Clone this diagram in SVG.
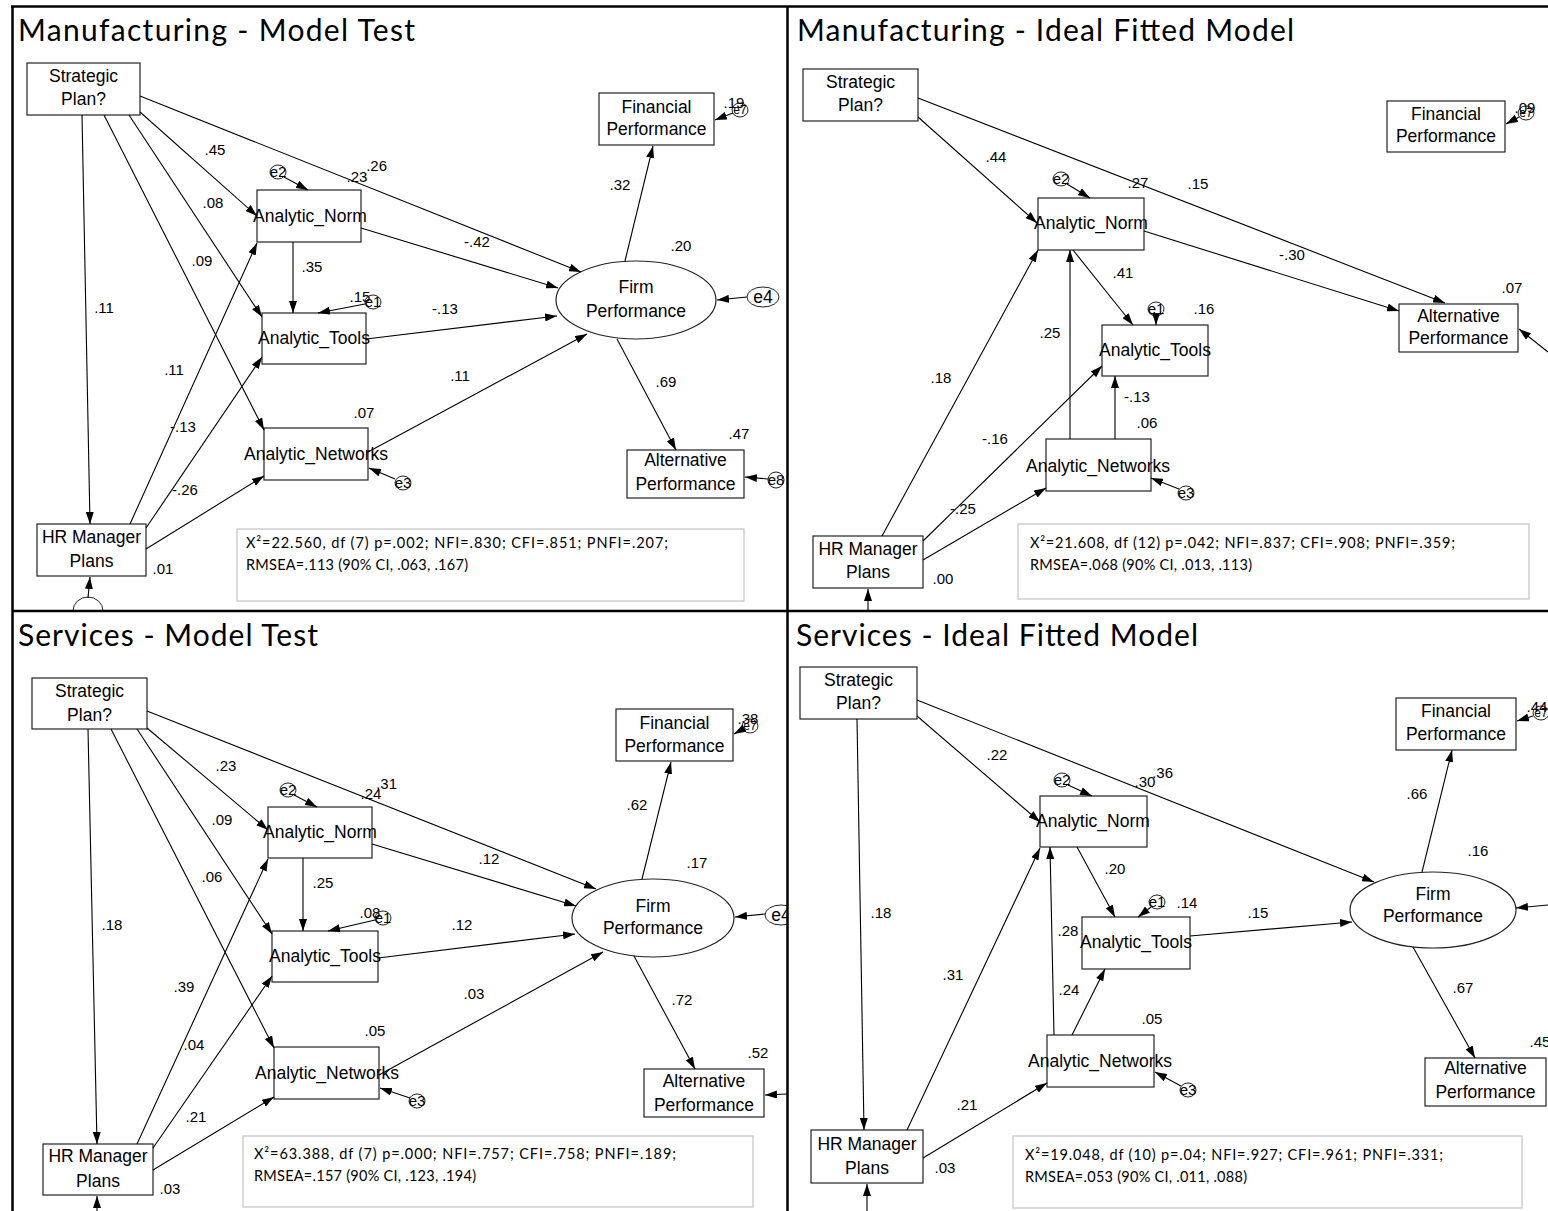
<svg xmlns="http://www.w3.org/2000/svg" width="1548" height="1211" viewBox="0 0 1548 1211">
<defs>
<marker id="ah" viewBox="0 0 12 8" refX="12" refY="4" markerWidth="12" markerHeight="8" markerUnits="userSpaceOnUse" orient="auto"><path d="M0,0 L12,4 L0,8 z" fill="#000"/></marker>
<clipPath id="c1"><rect x="12" y="6" width="775" height="605"/></clipPath>
<clipPath id="c2"><rect x="787" y="6" width="761" height="605"/></clipPath>
<clipPath id="c3"><rect x="12" y="611" width="775" height="600"/></clipPath>
<clipPath id="c4"><rect x="787" y="611" width="761" height="600"/></clipPath>
</defs>
<style>
.box{fill:#fff;stroke:#222;stroke-width:1.2}
.ell{fill:#fff;stroke:#222;stroke-width:1.2}
.nt{font-family:"Liberation Sans",Arial,sans-serif;font-size:17.5px;text-anchor:middle;fill:#000}
.lb{font-family:"Liberation Sans",Arial,sans-serif;font-size:15px;text-anchor:middle;fill:#000}
.ec{fill:#fff;stroke:#222;stroke-width:1}
.et{font-family:"Liberation Sans",Arial,sans-serif;font-size:15px;text-anchor:middle;fill:#000}
.es{font-family:"Liberation Sans",Arial,sans-serif;font-size:12px;text-anchor:middle;fill:#000}
.ln{stroke:#000;stroke-width:1.1;fill:none;marker-end:url(#ah)}
.fit{fill:#fff;stroke:#c8c8c8;stroke-width:1.3}
.ft{font-family:Lato,"Open Sans",sans-serif;font-size:14.5px;fill:#000}
.title{font-family:Lato,"Open Sans",sans-serif;font-size:30px;fill:#000}
.frame{stroke:#000;stroke-width:2.5;fill:none}
</style>
<rect width="1548" height="1211" fill="#fff"/>

<!-- ================= Q1 ================= -->
<g id="q1" clip-path="url(#c1)">
<text class="title" x="18" y="41" textLength="397">Manufacturing - Model Test</text>
<g id="q1-strategic"><rect class="box" x="27" y="63" width="113" height="52"/><text class="nt" x="83.5" y="82">Strategic</text><text class="nt" x="83.5" y="105">Plan?</text></g>
<g id="q1-hr"><rect class="box" x="37" y="524" width="109" height="52"/><text class="nt" x="91.5" y="543">HR Manager</text><text class="nt" x="91.5" y="567">Plans</text></g>
<g id="q1-norm"><rect class="box" x="257" y="190" width="104" height="52"/><text class="nt" x="310" y="222">Analytic_Norm</text></g>
<g id="q1-tools"><rect class="box" x="262" y="313" width="104" height="51"/><text class="nt" x="314" y="344">Analytic_Tools</text></g>
<g id="q1-networks"><rect class="box" x="264" y="428" width="104" height="52"/><text class="nt" x="316" y="460">Analytic_Networks</text></g>
<g id="q1-financial"><rect class="box" x="599" y="93" width="115" height="52"/><text class="nt" x="656.5" y="113">Financial</text><text class="nt" x="656.5" y="135">Performance</text></g>
<g id="q1-alternative"><rect class="box" x="627" y="450" width="117" height="48"/><text class="nt" x="685.5" y="466">Alternative</text><text class="nt" x="685.5" y="490">Performance</text></g>
<g id="q1-firm"><ellipse class="ell" cx="636" cy="300" rx="80" ry="39"/><text class="nt" x="636" y="293">Firm</text><text class="nt" x="636" y="317">Performance</text></g>
<g id="q1-e2"><ellipse class="ec" cx="278" cy="172" rx="8" ry="7"/><text class="et" x="278" y="177">e2</text></g>
<g id="q1-e1"><ellipse class="ec" cx="373" cy="302" rx="8" ry="7"/><text class="et" x="373" y="307">e1</text></g>
<g id="q1-e3"><ellipse class="ec" cx="403" cy="483" rx="8" ry="7"/><text class="et" x="403" y="488">e3</text></g>
<g id="q1-e4"><ellipse class="ec" cx="763" cy="297" rx="16" ry="10"/><text class="nt" x="763" y="303">e4</text></g>
<g id="q1-e7"><ellipse class="ec" cx="740" cy="110" rx="8" ry="7"/><text class="es" x="740" y="114">e7</text></g>
<g id="q1-e8"><ellipse class="ec" cx="776" cy="480" rx="8" ry="8"/><text class="et" x="776" y="485">e8</text></g>
<g id="q1-err"><path d="M73,611 A15,14 0 0 1 103,611" fill="#fff" stroke="#222" stroke-width="1"/></g>
<g id="q1-fit"><rect class="fit" x="237" y="529" width="507" height="72"/><text class="ft" x="246" y="548" textLength="422">X²=22.560, df (7) p=.002; NFI=.830; CFI=.851; PNFI=.207;</text><text class="ft" x="246" y="570" textLength="222">RMSEA=.113 (90% CI, .063, .167)</text></g>
</g>

<!-- ================= Q2 ================= -->
<g id="q2" clip-path="url(#c2)">
<text class="title" x="797" y="41" textLength="497">Manufacturing - Ideal Fitted Model</text>
<g id="q2-strategic"><rect class="box" x="803" y="69" width="115" height="52"/><text class="nt" x="860.5" y="88">Strategic</text><text class="nt" x="860.5" y="111">Plan?</text></g>
<g id="q2-hr"><rect class="box" x="813" y="536" width="110" height="52"/><text class="nt" x="868" y="555">HR Manager</text><text class="nt" x="868" y="578">Plans</text></g>
<g id="q2-norm"><rect class="box" x="1038" y="198" width="106" height="52"/><text class="nt" x="1091" y="229">Analytic_Norm</text></g>
<g id="q2-tools"><rect class="box" x="1102" y="325" width="106" height="51"/><text class="nt" x="1155" y="356">Analytic_Tools</text></g>
<g id="q2-networks"><rect class="box" x="1046" y="439" width="105" height="52"/><text class="nt" x="1098" y="472">Analytic_Networks</text></g>
<g id="q2-financial"><rect class="box" x="1387" y="101" width="118" height="51"/><text class="nt" x="1446" y="120">Financial</text><text class="nt" x="1446" y="142">Performance</text></g>
<g id="q2-alternative"><rect class="box" x="1399" y="304" width="119" height="48"/><text class="nt" x="1458.5" y="322">Alternative</text><text class="nt" x="1458.5" y="344">Performance</text></g>
<g id="q2-e2"><ellipse class="ec" cx="1061" cy="179" rx="8" ry="7"/><text class="et" x="1061" y="184">e2</text></g>
<g id="q2-e1"><ellipse class="ec" cx="1156" cy="309" rx="8" ry="7"/><text class="et" x="1156" y="314">e1</text></g>
<g id="q2-e3"><ellipse class="ec" cx="1186" cy="493" rx="8" ry="7"/><text class="et" x="1186" y="498">e3</text></g>
<g id="q2-e7"><ellipse class="ec" cx="1526" cy="113" rx="8" ry="7"/><text class="es" x="1526" y="117">e7</text></g>
<g id="q2-fit"><rect class="fit" x="1018" y="524" width="511" height="75"/><text class="ft" x="1030" y="548" textLength="425">X²=21.608, df (12) p=.042; NFI=.837; CFI=.908; PNFI=.359;</text><text class="ft" x="1030" y="570" textLength="222">RMSEA=.068 (90% CI, .013, .113)</text></g>
</g>

<!-- ================= Q3 ================= -->
<g id="q3" clip-path="url(#c3)">
<text class="title" x="18" y="646" textLength="300">Services - Model Test</text>
<g id="q3-strategic"><rect class="box" x="32" y="678" width="115" height="51"/><text class="nt" x="89.5" y="697">Strategic</text><text class="nt" x="89.5" y="721">Plan?</text></g>
<g id="q3-hr"><rect class="box" x="43" y="1144" width="110" height="51"/><text class="nt" x="98" y="1162">HR Manager</text><text class="nt" x="98" y="1187">Plans</text></g>
<g id="q3-norm"><rect class="box" x="268" y="807" width="104" height="51"/><text class="nt" x="320" y="838">Analytic_Norm</text></g>
<g id="q3-tools"><rect class="box" x="272" y="931" width="106" height="51"/><text class="nt" x="325" y="962">Analytic_Tools</text></g>
<g id="q3-networks"><rect class="box" x="274" y="1047" width="105" height="52"/><text class="nt" x="327" y="1079">Analytic_Networks</text></g>
<g id="q3-financial"><rect class="box" x="616" y="709" width="117" height="52"/><text class="nt" x="674.5" y="729">Financial</text><text class="nt" x="674.5" y="752">Performance</text></g>
<g id="q3-alternative"><rect class="box" x="644" y="1069" width="120" height="48"/><text class="nt" x="704" y="1087">Alternative</text><text class="nt" x="704" y="1111">Performance</text></g>
<g id="q3-firm"><ellipse class="ell" cx="653" cy="918" rx="81" ry="39"/><text class="nt" x="653" y="912">Firm</text><text class="nt" x="653" y="934">Performance</text></g>
<g id="q3-e2"><ellipse class="ec" cx="288" cy="790" rx="8" ry="7"/><text class="et" x="288" y="795">e2</text></g>
<g id="q3-e1"><ellipse class="ec" cx="383" cy="918" rx="8" ry="7"/><text class="et" x="383" y="923">e1</text></g>
<g id="q3-e3"><ellipse class="ec" cx="417" cy="1101" rx="8" ry="7"/><text class="et" x="417" y="1106">e3</text></g>
<g id="q3-e7"><ellipse class="ec" cx="750" cy="726" rx="8" ry="7"/><text class="es" x="750" y="730">e7</text></g>
<g id="q3-e4"><ellipse class="ec" cx="781" cy="915" rx="16" ry="10"/><text class="nt" x="781" y="921">e4</text></g>
<g id="q3-fit"><rect class="fit" x="243" y="1136" width="510" height="71"/><text class="ft" x="254" y="1159" textLength="422">X²=63.388, df (7) p=.000; NFI=.757; CFI=.758; PNFI=.189;</text><text class="ft" x="254" y="1181" textLength="222">RMSEA=.157 (90% CI, .123, .194)</text></g>
</g>

<!-- ================= Q4 ================= -->
<g id="q4" clip-path="url(#c4)">
<text class="title" x="796" y="646" textLength="402">Services - Ideal Fitted Model</text>
<g id="q4-strategic"><rect class="box" x="800" y="667" width="117" height="52"/><text class="nt" x="858.5" y="686">Strategic</text><text class="nt" x="858.5" y="709">Plan?</text></g>
<g id="q4-hr"><rect class="box" x="811" y="1130" width="112" height="53"/><text class="nt" x="867" y="1150">HR Manager</text><text class="nt" x="867" y="1174">Plans</text></g>
<g id="q4-norm"><rect class="box" x="1040" y="796" width="107" height="51"/><text class="nt" x="1093" y="827">Analytic_Norm</text></g>
<g id="q4-tools"><rect class="box" x="1082" y="917" width="108" height="52"/><text class="nt" x="1136" y="948">Analytic_Tools</text></g>
<g id="q4-networks"><rect class="box" x="1047" y="1035" width="107" height="52"/><text class="nt" x="1100" y="1067">Analytic_Networks</text></g>
<g id="q4-financial"><rect class="box" x="1396" y="698" width="120" height="52"/><text class="nt" x="1456" y="717">Financial</text><text class="nt" x="1456" y="740">Performance</text></g>
<g id="q4-alternative"><rect class="box" x="1425" y="1058" width="121" height="48"/><text class="nt" x="1485.5" y="1074">Alternative</text><text class="nt" x="1485.5" y="1098">Performance</text></g>
<g id="q4-firm"><ellipse class="ell" cx="1433" cy="910" rx="83" ry="38"/><text class="nt" x="1433" y="900">Firm</text><text class="nt" x="1433" y="922">Performance</text></g>
<g id="q4-e2"><ellipse class="ec" cx="1062" cy="780" rx="8" ry="7"/><text class="et" x="1062" y="785">e2</text></g>
<g id="q4-e1"><ellipse class="ec" cx="1157" cy="902" rx="8" ry="7"/><text class="et" x="1157" y="907">e1</text></g>
<g id="q4-e3"><ellipse class="ec" cx="1188" cy="1090" rx="8" ry="7"/><text class="et" x="1188" y="1095">e3</text></g>
<g id="q4-e7"><ellipse class="ec" cx="1541" cy="713" rx="8" ry="7"/><text class="es" x="1541" y="717">e7</text></g>
<g id="q4-fit"><rect class="fit" x="1013" y="1136" width="509" height="72"/><text class="ft" x="1025" y="1160" textLength="418">X²=19.048, df (10) p=.04; NFI=.927; CFI=.961; PNFI=.331;</text><text class="ft" x="1025" y="1182" textLength="222">RMSEA=.053 (90% CI, .011, .088)</text></g>
</g>

<!-- ================= connectors ================= -->
<g id="connectors">
<g clip-path="url(#c1)">
<line class="ln" x1="82" y1="115" x2="90" y2="524"/>
<line class="ln" x1="104" y1="115" x2="264" y2="430"/>
<line class="ln" x1="129" y1="115" x2="262" y2="317"/>
<line class="ln" x1="140" y1="112" x2="257" y2="216"/>
<line class="ln" x1="140" y1="96" x2="581" y2="272"/>
<line class="ln" x1="284" y1="177" x2="308" y2="190"/>
<line class="ln" x1="293" y1="242" x2="293" y2="313"/>
<line class="ln" x1="365" y1="304" x2="318" y2="313"/>
<line class="ln" x1="361" y1="228" x2="558" y2="288"/>
<line class="ln" x1="366" y1="339" x2="557" y2="316"/>
<line class="ln" x1="368" y1="452" x2="587" y2="334"/>
<line class="ln" x1="395" y1="479" x2="369" y2="468"/>
<line class="ln" x1="130" y1="524" x2="257" y2="243"/>
<line class="ln" x1="146" y1="528" x2="262" y2="357"/>
<line class="ln" x1="146" y1="549" x2="264" y2="476"/>
<line class="ln" x1="88" y1="598" x2="90" y2="577"/>
<line class="ln" x1="625" y1="261" x2="653" y2="146"/>
<line class="ln" x1="733" y1="113" x2="715" y2="120"/>
<line class="ln" x1="747" y1="297" x2="717" y2="300"/>
<line class="ln" x1="617" y1="339" x2="676" y2="450"/>
<line class="ln" x1="768" y1="479" x2="745" y2="477"/>
</g>
<g clip-path="url(#c2)">
<line class="ln" x1="918" y1="117" x2="1037" y2="223"/>
<line class="ln" x1="918" y1="98" x2="1445" y2="303"/>
<line class="ln" x1="1067" y1="184" x2="1090" y2="198"/>
<line class="ln" x1="1144" y1="231" x2="1399" y2="311"/>
<line class="ln" x1="1073" y1="250" x2="1133" y2="325"/>
<line class="ln" x1="1156" y1="316" x2="1156" y2="325"/>
<line class="ln" x1="1070" y1="439" x2="1070" y2="250"/>
<line class="ln" x1="1115" y1="439" x2="1115" y2="376"/>
<line class="ln" x1="882" y1="536" x2="1038" y2="250"/>
<line class="ln" x1="923" y1="541" x2="1102" y2="366"/>
<line class="ln" x1="923" y1="560" x2="1046" y2="488"/>
<line class="ln" x1="1179" y1="489" x2="1151" y2="478"/>
<line class="ln" x1="1519" y1="117" x2="1506" y2="124"/>
<line class="ln" x1="1548" y1="352" x2="1519" y2="329"/>
<line class="ln" x1="868" y1="611" x2="868" y2="589"/>
</g>
<g clip-path="url(#c3)">
<line class="ln" x1="88" y1="729" x2="97" y2="1144"/>
<line class="ln" x1="111" y1="729" x2="274" y2="1048"/>
<line class="ln" x1="137" y1="729" x2="272" y2="934"/>
<line class="ln" x1="147" y1="728" x2="268" y2="830"/>
<line class="ln" x1="147" y1="711" x2="596" y2="889"/>
<line class="ln" x1="294" y1="795" x2="317" y2="807"/>
<line class="ln" x1="303" y1="858" x2="303" y2="931"/>
<line class="ln" x1="375" y1="920" x2="328" y2="931"/>
<line class="ln" x1="372" y1="844" x2="576" y2="906"/>
<line class="ln" x1="378" y1="958" x2="575" y2="934"/>
<line class="ln" x1="379" y1="1075" x2="603" y2="952"/>
<line class="ln" x1="410" y1="1098" x2="380" y2="1088"/>
<line class="ln" x1="137" y1="1144" x2="268" y2="859"/>
<line class="ln" x1="153" y1="1148" x2="272" y2="976"/>
<line class="ln" x1="153" y1="1170" x2="274" y2="1097"/>
<line class="ln" x1="642" y1="879" x2="671" y2="762"/>
<line class="ln" x1="743" y1="729" x2="734" y2="734"/>
<line class="ln" x1="765" y1="914" x2="735" y2="917"/>
<line class="ln" x1="634" y1="956" x2="695" y2="1069"/>
<line class="ln" x1="787" y1="1094" x2="765" y2="1095"/>
<line class="ln" x1="97" y1="1211" x2="97" y2="1196"/>
</g>
<g clip-path="url(#c4)">
<line class="ln" x1="857" y1="719" x2="864" y2="1130"/>
<line class="ln" x1="917" y1="716" x2="1040" y2="822"/>
<line class="ln" x1="917" y1="700" x2="1374" y2="882"/>
<line class="ln" x1="1068" y1="785" x2="1092" y2="796"/>
<line class="ln" x1="1077" y1="847" x2="1115" y2="917"/>
<line class="ln" x1="1151" y1="907" x2="1138" y2="917"/>
<line class="ln" x1="1054" y1="1035" x2="1050" y2="847"/>
<line class="ln" x1="1072" y1="1035" x2="1105" y2="969"/>
<line class="ln" x1="907" y1="1130" x2="1040" y2="848"/>
<line class="ln" x1="923" y1="1158" x2="1047" y2="1083"/>
<line class="ln" x1="1181" y1="1086" x2="1155" y2="1072"/>
<line class="ln" x1="1190" y1="936" x2="1352" y2="922"/>
<line class="ln" x1="1422" y1="872" x2="1452" y2="750"/>
<line class="ln" x1="1533" y1="716" x2="1517" y2="721"/>
<line class="ln" x1="1548" y1="905" x2="1516" y2="908"/>
<line class="ln" x1="1413" y1="947" x2="1475" y2="1058"/>
<line class="ln" x1="867" y1="1211" x2="867" y2="1184"/>
</g>
</g>

<!-- ================= coefficient labels ================= -->
<g id="labels">
<g id="q1-labels">
<text class="lb" x="215" y="155">.45</text>
<text class="lb" x="357" y="182">.23</text>
<text class="lb" x="387" y="171" style="text-anchor:end">.26</text>
<text class="lb" x="213" y="208">.08</text>
<text class="lb" x="202" y="266">.09</text>
<text class="lb" x="312" y="272">.35</text>
<text class="lb" x="360" y="302">.15</text>
<text class="lb" x="104" y="313">.11</text>
<text class="lb" x="174" y="375">.11</text>
<text class="lb" x="183" y="432">-.13</text>
<text class="lb" x="364" y="418">.07</text>
<text class="lb" x="185" y="495">-.26</text>
<text class="lb" x="163" y="574">.01</text>
<text class="lb" x="477" y="247">-.42</text>
<text class="lb" x="681" y="251">.20</text>
<text class="lb" x="445" y="314">-.13</text>
<text class="lb" x="460" y="381">.11</text>
<text class="lb" x="666" y="387">.69</text>
<text class="lb" x="739" y="439">.47</text>
<text class="lb" x="620" y="190">.32</text>
<text class="lb" x="734" y="108">.19</text>
</g>
<g id="q2-labels">
<text class="lb" x="996" y="162">.44</text>
<text class="lb" x="1138" y="188">.27</text>
<text class="lb" x="1198" y="189">.15</text>
<text class="lb" x="1123" y="278">.41</text>
<text class="lb" x="1292" y="260">-.30</text>
<text class="lb" x="1512" y="293">.07</text>
<text class="lb" x="1204" y="314">.16</text>
<text class="lb" x="1050" y="338">.25</text>
<text class="lb" x="941" y="383">.18</text>
<text class="lb" x="1137" y="402">-.13</text>
<text class="lb" x="1147" y="428">.06</text>
<text class="lb" x="995" y="444">-.16</text>
<text class="lb" x="963" y="514">-.25</text>
<text class="lb" x="943" y="584">.00</text>
<text class="lb" x="1525" y="113">.09</text>
</g>
<g id="q3-labels">
<text class="lb" x="226" y="771">.23</text>
<text class="lb" x="371" y="799">.24</text>
<text class="lb" x="397" y="789" style="text-anchor:end">.31</text>
<text class="lb" x="222" y="825">.09</text>
<text class="lb" x="212" y="882">.06</text>
<text class="lb" x="323" y="888">.25</text>
<text class="lb" x="370" y="918">.08</text>
<text class="lb" x="112" y="930">.18</text>
<text class="lb" x="184" y="992">.39</text>
<text class="lb" x="194" y="1050">.04</text>
<text class="lb" x="375" y="1036">.05</text>
<text class="lb" x="196" y="1122">.21</text>
<text class="lb" x="170" y="1194">.03</text>
<text class="lb" x="489" y="864">.12</text>
<text class="lb" x="697" y="868">.17</text>
<text class="lb" x="462" y="930">.12</text>
<text class="lb" x="474" y="999">.03</text>
<text class="lb" x="637" y="810">.62</text>
<text class="lb" x="682" y="1005">.72</text>
<text class="lb" x="758" y="1058">.52</text>
<text class="lb" x="748" y="724">.38</text>
</g>
<g id="q4-labels">
<text class="lb" x="997" y="760">.22</text>
<text class="lb" x="1145" y="787">.30</text>
<text class="lb" x="1173" y="778" style="text-anchor:end">.36</text>
<text class="lb" x="1115" y="874">.20</text>
<text class="lb" x="881" y="918">.18</text>
<text class="lb" x="1187" y="908">.14</text>
<text class="lb" x="1068" y="936">.28</text>
<text class="lb" x="953" y="980">.31</text>
<text class="lb" x="1069" y="995">.24</text>
<text class="lb" x="1152" y="1024">.05</text>
<text class="lb" x="967" y="1110">.21</text>
<text class="lb" x="945" y="1173">.03</text>
<text class="lb" x="1258" y="918">.15</text>
<text class="lb" x="1417" y="799">.66</text>
<text class="lb" x="1478" y="856">.16</text>
<text class="lb" x="1463" y="993">.67</text>
<text class="lb" x="1540" y="1047">.45</text>
<text class="lb" x="1537" y="712">.44</text>
</g>
</g>

<!-- ================= frame ================= -->
<g id="frame">
<line class="frame" x1="12.5" y1="6" x2="12.5" y2="1211"/>
<line class="frame" x1="11" y1="6.5" x2="1548" y2="6.5"/>
<line class="frame" x1="787.5" y1="6" x2="787.5" y2="1211"/>
<line class="frame" x1="12" y1="611" x2="1548" y2="611"/>
</g>
</svg>
